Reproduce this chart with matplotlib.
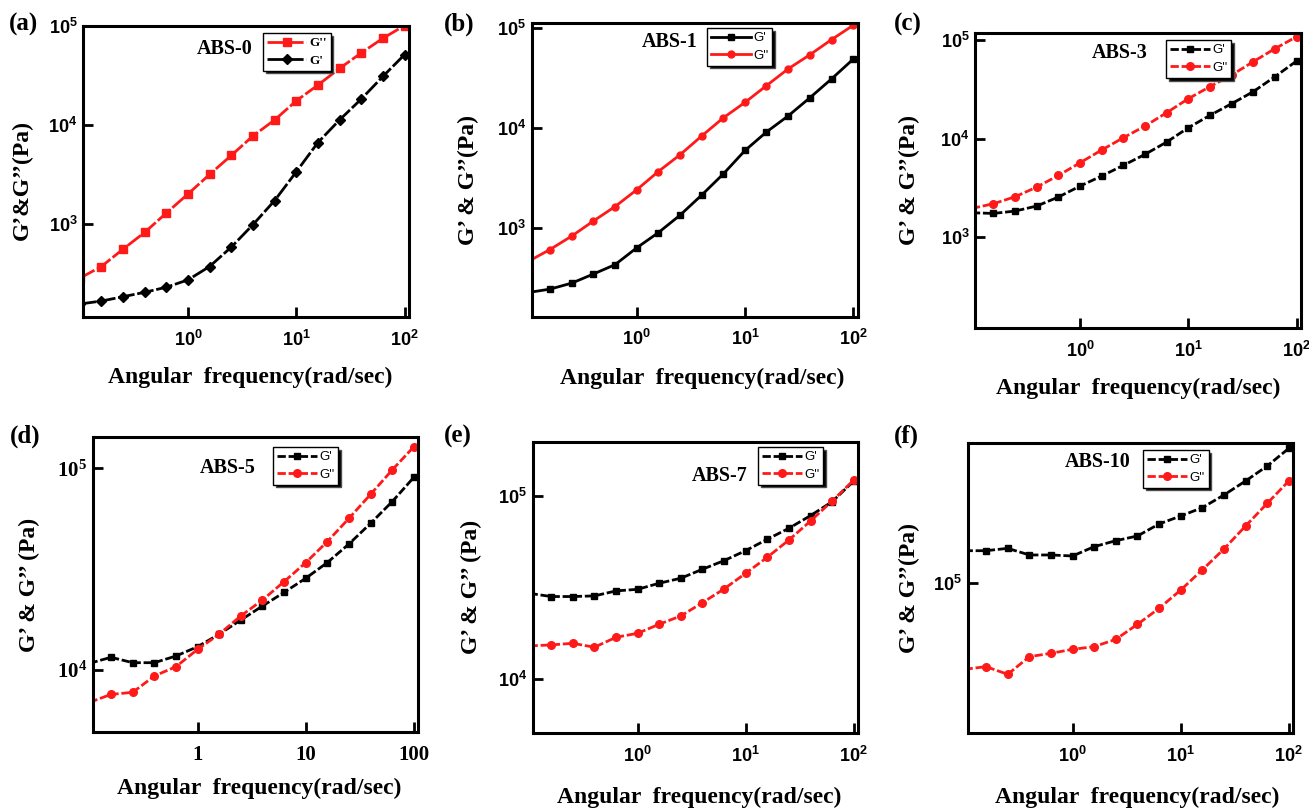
import math
import matplotlib
matplotlib.use("Agg")
import matplotlib.pyplot as plt
from matplotlib.ticker import LogLocator, NullLocator, FuncFormatter

# Angular frequency sweep (rad/s), 5 points per decade
freq = [0.1, 0.158, 0.251, 0.398, 0.631, 1.0, 1.58, 2.51, 3.98, 6.31,
        10.0, 15.8, 25.1, 39.8, 63.1, 100.0]

# Storage (G') and loss (G'') moduli in Pa for each ABS sample
abs0_g1 = [157, 168, 186, 206, 232, 275, 375, 589, 993, 1738,
           3390, 6670, 11320, 18380, 31100, 51600]
abs0_g2 = [286, 375, 562, 830, 1303, 2028, 3186, 4966, 7800, 11320,
           17660, 25400, 37500, 53700, 75500, 101600]

abs1_g1 = [224, 242, 278, 343, 426, 628, 890, 1333, 2122, 3460,
           5940, 9110, 13220, 20090, 31040, 48980]
abs1_g2 = [460, 604, 824, 1167, 1629, 2400, 3650, 5380, 8300, 12630,
           18030, 26560, 39160, 54200, 76900, 107000]

abs3_g1 = [1778, 1750, 1849, 2080, 2566, 3313, 4186, 5370, 6940, 9250,
           12920, 17220, 22620, 29950, 42470, 61200]
abs3_g2 = [1967, 2193, 2582, 3236, 4246, 5710, 7670, 10230, 13430, 18350,
           25430, 33640, 44150, 60300, 81700, 108000]

abs5_g1 = [10790, 11560, 10870, 10870, 11730, 13050, 15040, 17700, 20760, 24260,
           28500, 34060, 42150, 53350, 68370, 90200]
abs5_g2 = [6910, 7570, 7750, 9340, 10390, 12660, 15040, 18540, 22240, 27420,
           34060, 43270, 56460, 74300, 98180, 127900]

abs7_g1 = [29430, 28270, 28270, 28500, 30340, 30960, 33400, 35580, 39840, 44400,
           50340, 58030, 66660, 78170, 93160, 120800]
abs7_g2 = [15200, 15390, 15710, 14950, 16940, 17810, 19950, 22150, 26170, 31120,
           37880, 46260, 57540, 73080, 93970, 122200]

abs10_g1 = [145600, 145600, 149600, 138600, 138600, 137000, 152500, 163400, 172500, 198100,
            217200, 238800, 276500, 325000, 386200, 473200]
abs10_g2 = [37150, 38310, 35070, 42980, 44670, 46770, 48210, 52480, 62370, 74990,
            92600, 116600, 148500, 193500, 251200, 325000]

panel_tags = ["(a)", "(b)", "(c)", "(d)", "(e)", "(f)"]
sample_names = ["ABS-0", "ABS-1", "ABS-3", "ABS-5", "ABS-7", "ABS-10"]

W, H = 1309, 809
fig = plt.figure(figsize=(W / 100, H / 100), dpi=100)

SERIF = "Liberation Serif"
SANS = "Liberation Sans"
RED = "#ff1a1a"


def px_axes(left, right, top, bottom):
    return fig.add_axes([left / W, 1 - bottom / H, (right - left) / W, (bottom - top) / H])


def fig_text(x, y, s, **kw):
    fig.text(x / W, 1 - y / H, s, **kw)


def decade_label(v, pos):
    if v <= 0:
        return ""
    e = int(round(math.log10(v)))
    return r"$\mathdefault{10^{%d}}$" % e


def plain_label(v, pos):
    return "%g" % v


def style_axes(ax, ylim, tick_family, tick_size, plain_x=False):
    ax.set_xscale("log")
    ax.set_yscale("log")
    ax.set_xlim(0.107, 110)
    ax.set_ylim(*ylim)
    for sp in ax.spines.values():
        sp.set_linewidth(2.2)
    for axis in (ax.xaxis, ax.yaxis):
        axis.set_major_locator(LogLocator(base=10, numticks=10))
        axis.set_minor_locator(NullLocator())
    ax.xaxis.set_major_formatter(FuncFormatter(plain_label if plain_x else decade_label))
    ax.yaxis.set_major_formatter(FuncFormatter(decade_label))
    ax.tick_params(direction="in", length=7, width=2, top=False, right=False)
    ax.tick_params(axis="x", pad=9)
    ax.tick_params(axis="y", pad=4)
    for lab in ax.get_xticklabels() + ax.get_yticklabels():
        lab.set_fontfamily(tick_family)
        lab.set_fontweight("bold")
        lab.set_fontsize(tick_size)


def add_legend(ax, anchor, family, weight):
    leg = ax.legend(loc="upper left", bbox_to_anchor=anchor, frameon=True,
                    fancybox=False, edgecolor="black", framealpha=1,
                    shadow={"facecolor": "black", "alpha": 1},
                    prop={"family": family, "weight": weight, "size": 9.5},
                    borderpad=0.3, labelspacing=0.4, handlelength=3.0,
                    handletextpad=0.2, borderaxespad=0)
    leg.get_frame().set_linewidth(1.0)


DASH = (0, (3, 1))
LONG_DASH = (0, (6, 1))

panels = [
    dict(box=(83, 409, 26, 317), ylim=(116, 1.005e5),
         series=[(abs0_g2, RED, "s", "G''"), (abs0_g1, "black", "D", "G'")],
         leg=(0.552, 0.976), legfont=(SERIF, "bold"), txt=(0.436, 0.921), ls=LONG_DASH,
         tick=(SANS, 13), plain=False, xl=(250, 377), yl=(22, 180), ylab="G’&G’’(Pa)",
         tag=(23, 24), ms=(5.5, 5)),
    dict(box=(531.7, 857.7, 23.3, 316.7), ylim=(128, 1.12e5),
         series=[(abs1_g1, "black", "s", "G'"), (abs1_g2, RED, "o", "G''")],
         leg=(0.538, 0.984), legfont=(SANS, "normal"), txt=(0.424, 0.936), ls="-",
         tick=(SANS, 13), plain=False, xl=(702, 378), yl=(468, 180), ylab="G’ & G’’(Pa)",
         tag=(459, 24), ms=(5, 5)),
    dict(box=(975, 1301, 33.3, 328.3), ylim=(120, 1.17e5),
         series=[(abs3_g1, "black", "s", "G'"), (abs3_g2, RED, "o", "G''")],
         leg=(0.586, 0.977), legfont=(SANS, "normal"), txt=(0.445, 0.933), ls=DASH,
         tick=(SANS, 13), plain=False, xl=(1138, 388), yl=(909, 180), ylab="G’ & G’’(Pa)",
         tag=(908, 24), ms=(5, 5.5)),
    dict(box=(92.7, 418.3, 437.3, 732.3), ylim=(4910, 1.425e5),
         series=[(abs5_g1, "black", "s", "G'"), (abs5_g2, RED, "o", "G''")],
         leg=(0.554, 0.967), legfont=(SANS, "normal"), txt=(0.416, 0.896), ls=DASH,
         tick=(SERIF, 15), plain=True, xl=(259, 788), yl=(29, 585), ylab="G’ & G’’ (Pa)",
         tag=(25, 436), ms=(5, 5.5)),
    dict(box=(532.7, 858.3, 441.7, 733.3), ylim=(5070, 1.978e5),
         series=[(abs7_g1, "black", "s", "G'"), (abs7_g2, RED, "o", "G''")],
         leg=(0.692, 0.982), legfont=(SANS, "normal"), txt=(0.575, 0.882), ls=DASH,
         tick=(SANS, 13), plain=False, xl=(699, 797), yl=(471, 587), ylab="G’ & G’’ (Pa)",
         tag=(458, 436), ms=(5, 5.5)),
    dict(box=(967.7, 1293.3, 442.7, 733.3), ylim=(17780, 5.05e5),
         series=[(abs10_g1, "black", "s", "G'"), (abs10_g2, RED, "o", "G''")],
         leg=(0.539, 0.975), legfont=(SANS, "normal"), txt=(0.398, 0.933), ls=DASH,
         tick=(SANS, 13), plain=False, xl=(1137, 797), yl=(909, 588), ylab="G’ & G’’(Pa)",
         tag=(906, 436), ms=(5, 5.5)),
]

for tag, name, p in zip(panel_tags, sample_names, panels):
    ax = px_axes(*p["box"])
    for (vals, color, marker, label), ms in zip(p["series"], p["ms"]):
        ax.plot(freq, vals, color=color, marker=marker, markersize=ms,
                linestyle=p["ls"], linewidth=2.0, label=label, clip_on=True)
    style_axes(ax, p["ylim"], p["tick"][0], p["tick"][1], plain_x=p["plain"])
    add_legend(ax, p["leg"], *p["legfont"])
    ax.text(p["txt"][0], p["txt"][1], name, transform=ax.transAxes, ha="center",
            va="center", fontsize=14.5, fontweight="bold", family=SERIF)
    fig_text(p["xl"][0], p["xl"][1], "Angular  frequency(rad/sec)", ha="center",
             va="center", fontsize=17, fontweight="bold", family=SERIF)
    fig_text(p["yl"][0], p["yl"][1], p["ylab"], ha="center", va="center",
             rotation=90, fontsize=17, fontweight="bold", family=SERIF)
    fig_text(p["tag"][0], p["tag"][1], tag, ha="center", va="center",
             fontsize=18, fontweight="bold", family=SERIF)

fig.savefig("out.png", dpi=100)
